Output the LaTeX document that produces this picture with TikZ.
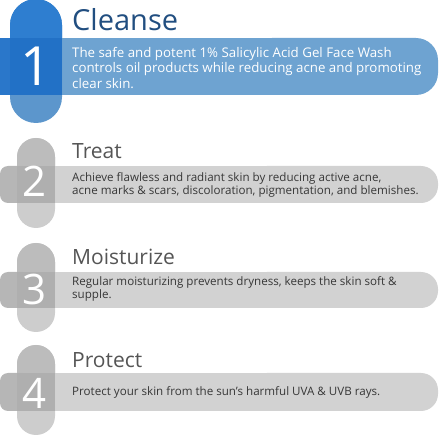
\documentclass[tikz,border=0pt]{standalone}
\usepackage{fontspec}
\setmainfont{Open Sans}
\definecolor{bTop}{RGB}{46,126,208}
\definecolor{bOver}{RGB}{34,113,198}
\definecolor{bLeft}{RGB}{42,119,202}
\definecolor{bBot}{RGB}{92,150,204}
\definecolor{bBar}{RGB}{110,163,209}
\definecolor{bTitle}{RGB}{33,78,128}
\definecolor{gTop}{RGB}{188,188,188}
\definecolor{gOver}{RGB}{175,175,175}
\definecolor{gLeft}{RGB}{182,182,182}
\definecolor{gBot}{RGB}{205,205,205}
\definecolor{gBar}{RGB}{210,210,210}
\definecolor{gTitle}{RGB}{85,85,85}
\definecolor{gText}{RGB}{55,55,55}
\tikzset{
  ttl/.style={anchor=base west, inner sep=0pt},
  body/.style={anchor=west, align=left, inner sep=0pt},
  num/.style={inner sep=0pt, text=white},
}
% pill: #1 colour, #2 x1, #3 ybottom, #4 x2, #5 ytop, #6 radius
\newcommand{\mypill}[6]{%
  \fill[#1] (#2,#3+#6) -- (#2,#5-#6) arc[start angle=180,end angle=0,radius=#6]
     -- (#4,#3+#6) arc[start angle=0,end angle=-180,radius=#6] -- cycle;}
\begin{document}
\begin{tikzpicture}[x=1pt,y=1pt]
\useasboundingbox (0,0) rectangle (440,440);
% ---------- Step 1 ----------
\fill[bBar] (0,345) rectangle (300,402);
\fill[bBar, rounded corners=22] (250,345) rectangle (438,402);
\mypill{bBot}{10}{317}{62}{441}{26}
\begin{scope}
  \clip (0,402) rectangle (70,445);
  \mypill{bTop}{10}{317}{62}{441}{26}
\end{scope}
\fill[bOver] (10,345) rectangle (62,402);
\fill[bLeft] (0,345) rectangle (10,402);
\node[num, font=\fontsize{54}{54}\selectfont] (n1) at (36,374) {1};
\node[ttl, text=bTitle, font=\fontsize{29}{29}\selectfont] (t1) at (72,409) {Cleanse};
\node[body, text=white, font=\fontsize{13.3}{15.5}\selectfont] (d1) at (72,372)
  {The safe and potent 1\% Salicylic Acid Gel Face Wash\\controls oil products while reducing acne and promoting\\clear skin.};
% ---------- Step 2 ----------
\fill[gBar] (17,237) rectangle (300,274);
\fill[gBar, rounded corners=17] (250,237) rectangle (438,274);
\mypill{gBot}{17}{212}{55}{302}{19}
\begin{scope}
  \clip (0,274) rectangle (70,310);
  \mypill{gTop}{17}{212}{55}{302}{19}
\end{scope}
\fill[gLeft, rounded corners=8] (0,237) rectangle (30,274);
\fill[gOver] (17,237) rectangle (55,274);
\node[num, font=\fontsize{42}{42}\selectfont] (n2) at (35,259) {2};
\node[ttl, text=gTitle, font=\fontsize{21}{21}\selectfont] (t2) at (72,281) {Treat};
\node[body, text=gText, font=\fontsize{11.6}{13.5}\selectfont] (d2) at (72,255)
  {Achieve flawless and radiant skin by reducing active acne,\\acne marks \& scars, discoloration, pigmentation, and blemishes.};
% ---------- Step 3 ----------
\fill[gBar] (17,132) rectangle (300,168);
\fill[gBar, rounded corners=17] (250,132) rectangle (438,168);
\mypill{gBot}{17}{108}{55}{197}{19}
\begin{scope}
  \clip (0,168) rectangle (70,205);
  \mypill{gTop}{17}{108}{55}{197}{19}
\end{scope}
\fill[gLeft, rounded corners=8] (0,132) rectangle (30,168);
\fill[gOver] (17,132) rectangle (55,168);
\node[num, font=\fontsize{42}{42}\selectfont] (n3) at (35,151) {3};
\node[ttl, text=gTitle, font=\fontsize{21}{21}\selectfont] (t3) at (72,175) {Moisturize};
\node[body, text=gText, font=\fontsize{11.6}{13.5}\selectfont] (d3) at (72,151)
  {Regular moisturizing prevents dryness, keeps the skin soft \&\\supple.};
% ---------- Step 4 ----------
\fill[gBar] (17,29) rectangle (300,67);
\fill[gBar, rounded corners=17] (250,29) rectangle (438,67);
\mypill{gBot}{17}{5}{55}{95}{19}
\begin{scope}
  \clip (0,67) rectangle (70,102);
  \mypill{gTop}{17}{5}{55}{95}{19}
\end{scope}
\fill[gLeft, rounded corners=8] (0,29) rectangle (30,67);
\fill[gOver] (17,29) rectangle (55,67);
\node[num, font=\fontsize{42}{42}\selectfont] (n4) at (35,47) {4};
\node[ttl, text=gTitle, font=\fontsize{21}{21}\selectfont] (t4) at (72,72) {Protect};
\node[body, text=gText, font=\fontsize{11.6}{13.5}\selectfont] (d4) at (72,48)
  {Protect your skin from the sun's harmful UVA \& UVB rays.};
\end{tikzpicture}
\end{document}
